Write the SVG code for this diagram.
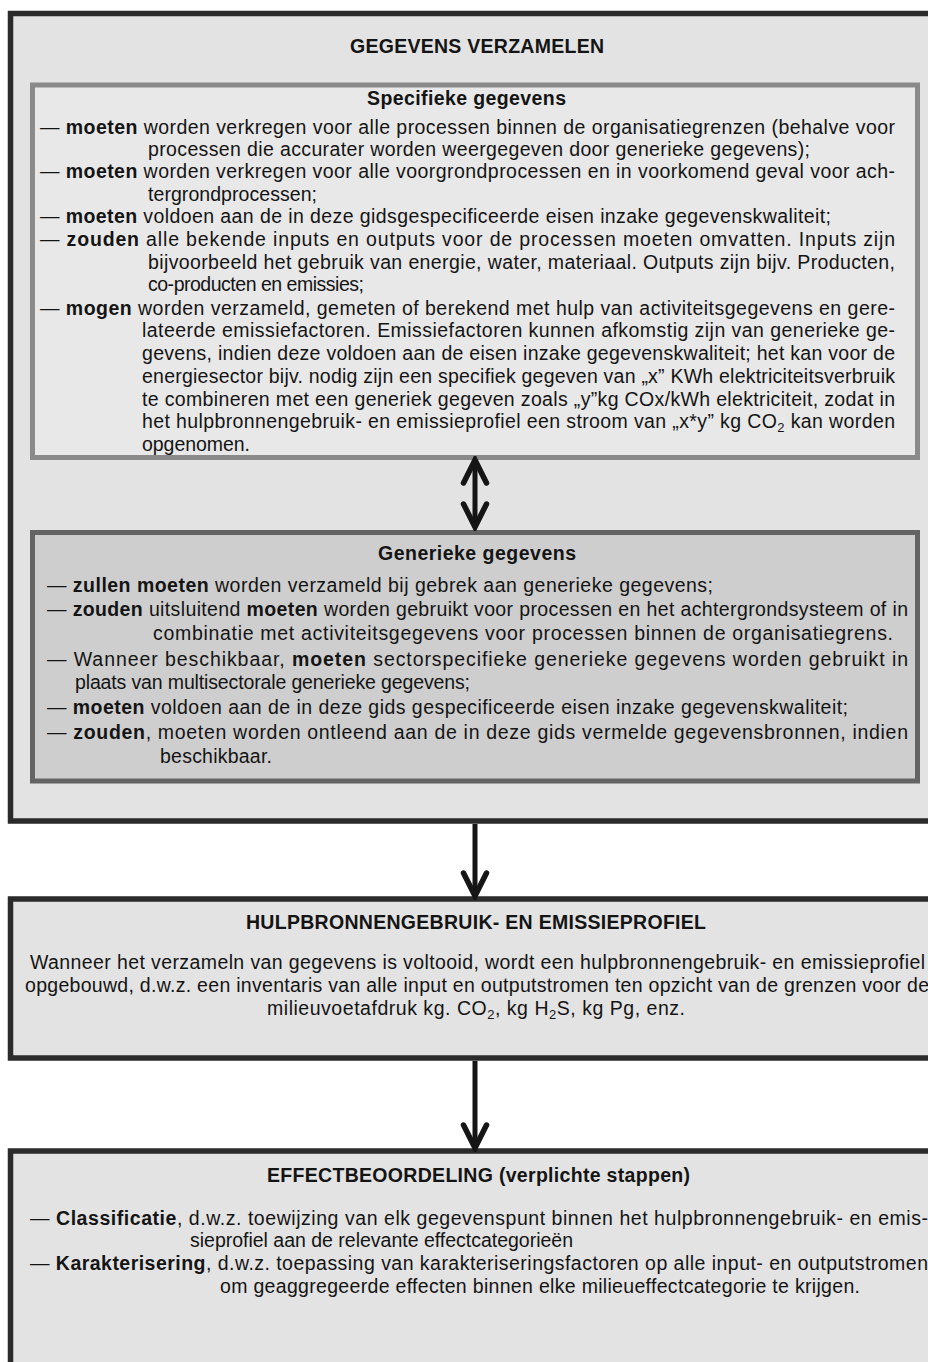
<svg xmlns="http://www.w3.org/2000/svg" width="928" height="1362" viewBox="0 0 928 1362">
<style>
.t{font-family:"Liberation Sans",Arial,Helvetica,sans-serif;font-size:19.5px;fill:#141414}
.b{font-weight:bold}
.c{text-anchor:middle}
.outer{fill:#e3e3e3;stroke:#2b2b2b;stroke-width:5.5}
.spec{fill:#e8e8e8;stroke:#8a8a8a;stroke-width:5}
.gen{fill:#cecece;stroke:#646464;stroke-width:5}
.conn{fill:none;stroke:#151515;stroke-width:5}
.sub{font-size:13px}
</style>
<defs>
<marker id="chev" markerUnits="userSpaceOnUse" viewBox="-30 -16 34 32" refX="0" refY="0" markerWidth="34" markerHeight="32" orient="auto-start-reverse">
<path d="M-23,-11.5 L0,0 L-23,11.5" fill="none" stroke="#151515" stroke-width="5.5" stroke-linecap="round" stroke-linejoin="miter"/>
</marker>
</defs>
<rect width="928" height="1362" fill="#ffffff"/>

<g id="gegevens-verzamelen">
<rect class="outer" x="10.5" y="13.5" width="930" height="807.5"/>
<text class="t b c" x="477" y="53" textLength="254" lengthAdjust="spacing">GEGEVENS VERZAMELEN</text>
</g>

<g id="specifieke-gegevens">
<rect class="spec" x="32.5" y="85" width="885" height="372.5"/>
<text class="t b c" x="466.5" y="105" textLength="199" lengthAdjust="spacing">Specifieke gegevens</text>
<text class="t" x="40" y="134" textLength="855" lengthAdjust="spacing">— <tspan class="b">moeten</tspan> worden verkregen voor alle processen binnen de organisatiegrenzen (behalve voor</text>
<text class="t" x="148" y="156" textLength="662" lengthAdjust="spacing">processen die accurater worden weergegeven door generieke gegevens);</text>
<text class="t" x="40" y="178" textLength="855" lengthAdjust="spacing">— <tspan class="b">moeten</tspan> worden verkregen voor alle voorgrondprocessen en in voorkomend geval voor ach-</text>
<text class="t" x="148" y="201" textLength="169" lengthAdjust="spacing">tergrondprocessen;</text>
<text class="t" x="40" y="223" textLength="791" lengthAdjust="spacing">— <tspan class="b">moeten</tspan> voldoen aan de in deze gidsgespecificeerde eisen inzake gegevenskwaliteit;</text>
<text class="t" x="40" y="246" textLength="855" lengthAdjust="spacing">— <tspan class="b">zouden</tspan> alle bekende inputs en outputs voor de processen moeten omvatten. Inputs zijn</text>
<text class="t" x="148" y="269" textLength="747" lengthAdjust="spacing">bijvoorbeeld het gebruik van energie, water, materiaal. Outputs zijn bijv. Producten,</text>
<text class="t" x="148" y="291" textLength="216" lengthAdjust="spacing">co-producten en emissies;</text>
<text class="t" x="40" y="315" textLength="855" lengthAdjust="spacing">— <tspan class="b">mogen</tspan> worden verzameld, gemeten of berekend met hulp van activiteitsgegevens en gere-</text>
<text class="t" x="142" y="337" textLength="753" lengthAdjust="spacing">lateerde emissiefactoren. Emissiefactoren kunnen afkomstig zijn van generieke ge-</text>
<text class="t" x="142" y="360" textLength="753" lengthAdjust="spacing">gevens, indien deze voldoen aan de eisen inzake gegevenskwaliteit; het kan voor de</text>
<text class="t" x="142" y="383" textLength="753" lengthAdjust="spacing">energiesector bijv. nodig zijn een specifiek gegeven van „x” KWh elektriciteitsverbruik</text>
<text class="t" x="142" y="406" textLength="753" lengthAdjust="spacing">te combineren met een generiek gegeven zoals „y”kg COx/kWh elektriciteit, zodat in</text>
<text class="t" x="142" y="428" textLength="753" lengthAdjust="spacing">het hulpbronnengebruik- en emissieprofiel een stroom van „x*y” kg CO<tspan class="sub" dy="4">2</tspan><tspan dy="-4"> kan worden</tspan></text>
<text class="t" x="142" y="451" textLength="108" lengthAdjust="spacing">opgenomen.</text>
</g>

<g id="generieke-gegevens">
<rect class="gen" x="32.5" y="532.5" width="885" height="248.5"/>
<text class="t b c" x="477" y="560" textLength="198" lengthAdjust="spacing">Generieke gegevens</text>
<text class="t" x="47" y="592" textLength="666" lengthAdjust="spacing">— <tspan class="b">zullen moeten</tspan> worden verzameld bij gebrek aan generieke gegevens;</text>
<text class="t" x="47" y="616" textLength="861" lengthAdjust="spacing">— <tspan class="b">zouden</tspan> uitsluitend <tspan class="b">moeten</tspan> worden gebruikt voor processen en het achtergrondsysteem of in</text>
<text class="t" x="153" y="640" textLength="740" lengthAdjust="spacing">combinatie met activiteitsgegevens voor processen binnen de organisatiegrens.</text>
<text class="t" x="47" y="666" textLength="861" lengthAdjust="spacing">— Wanneer beschikbaar, <tspan class="b">moeten</tspan> sectorspecifieke generieke gegevens worden gebruikt in</text>
<text class="t" x="75" y="689" textLength="395" lengthAdjust="spacing">plaats van multisectorale generieke gegevens;</text>
<text class="t" x="47" y="714" textLength="801" lengthAdjust="spacing">— <tspan class="b">moeten</tspan> voldoen aan de in deze gids gespecificeerde eisen inzake gegevenskwaliteit;</text>
<text class="t" x="47" y="739" textLength="861" lengthAdjust="spacing">— <tspan class="b">zouden</tspan>, moeten worden ontleend aan de in deze gids vermelde gegevensbronnen, indien</text>
<text class="t" x="160" y="763" textLength="112" lengthAdjust="spacing">beschikbaar.</text>
</g>

<g id="hulpbronnengebruik">
<rect class="outer" x="10.5" y="899" width="930" height="159"/>
<text class="t b c" x="476" y="929" textLength="460" lengthAdjust="spacing">HULPBRONNENGEBRUIK- EN EMISSIEPROFIEL</text>
<text class="t c" x="477.5" y="969" textLength="895" lengthAdjust="spacing">Wanneer het verzameln van gegevens is voltooid, wordt een hulpbronnengebruik- en emissieprofiel</text>
<text class="t c" x="477" y="992" textLength="904" lengthAdjust="spacing">opgebouwd, d.w.z. een inventaris van alle input en outputstromen ten opzicht van de grenzen voor de</text>
<text class="t c" x="476" y="1015" textLength="418" lengthAdjust="spacing">milieuvoetafdruk kg. CO<tspan class="sub" dy="4">2</tspan><tspan dy="-4">, kg H</tspan><tspan class="sub" dy="4">2</tspan><tspan dy="-4">S, kg Pg, enz.</tspan></text>
</g>

<g id="effectbeoordeling">
<rect class="outer" x="10.5" y="1151" width="930" height="300"/>
<text class="t b c" x="478.5" y="1182" textLength="423" lengthAdjust="spacing">EFFECTBEOORDELING (verplichte stappen)</text>
<text class="t" x="30" y="1225" textLength="898" lengthAdjust="spacing">— <tspan class="b">Classificatie</tspan>, d.w.z. toewijzing van elk gegevenspunt binnen het hulpbronnengebruik- en emis-</text>
<text class="t" x="190" y="1247" textLength="383" lengthAdjust="spacing">sieprofiel aan de relevante effectcategorieën</text>
<text class="t" x="30" y="1270" textLength="898" lengthAdjust="spacing">— <tspan class="b">Karakterisering</tspan>, d.w.z. toepassing van karakteriseringsfactoren op alle input- en outputstromen</text>
<text class="t" x="220" y="1293" textLength="640" lengthAdjust="spacing">om geaggregeerde effecten binnen elke milieueffectcategorie te krijgen.</text>
</g>

<g id="connectors">
<line class="conn" x1="475" y1="460" x2="475" y2="527" marker-start="url(#chev)" marker-end="url(#chev)"/>
<line class="conn" x1="475" y1="824" x2="475" y2="896" marker-end="url(#chev)"/>
<line class="conn" x1="475" y1="1061" x2="475" y2="1148" marker-end="url(#chev)"/>
</g>
</svg>
